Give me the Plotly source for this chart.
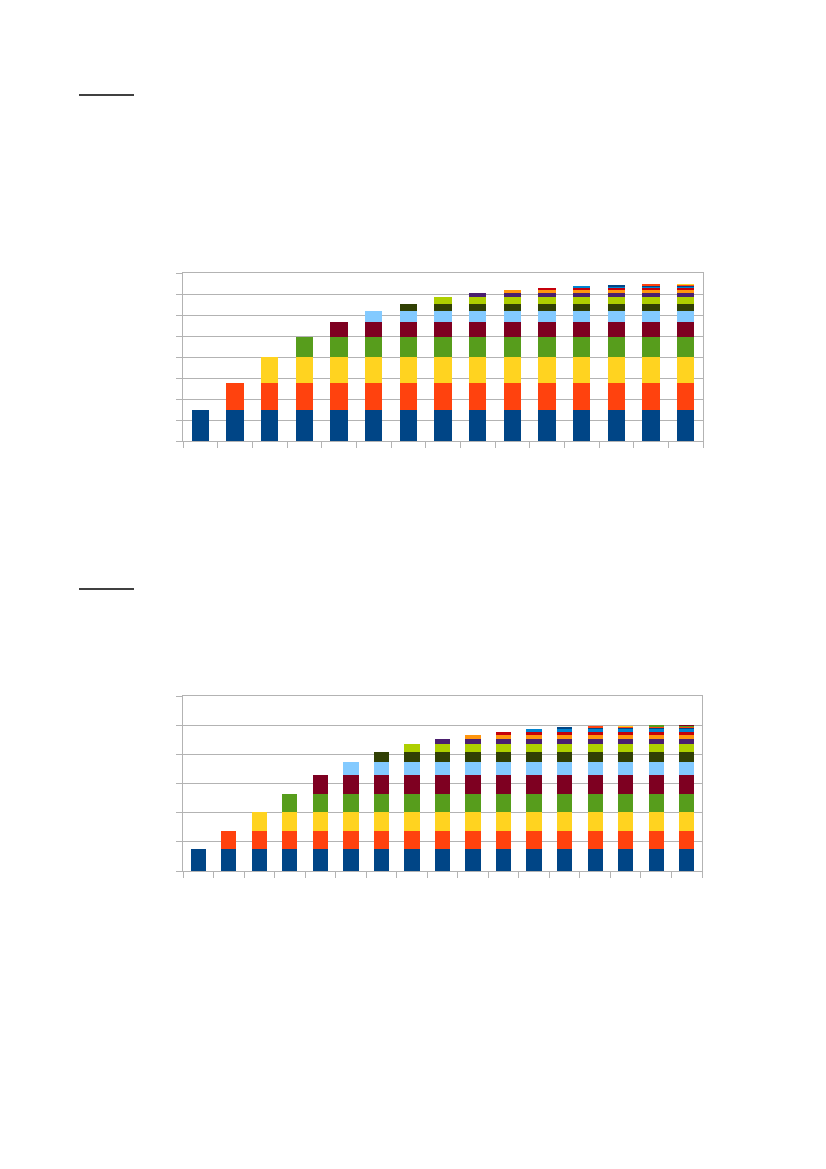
import plotly.graph_objects as go

# ---- data ----
categories_1 = [str(i) for i in range(1, 16)]
layer_values_1 = [1.48, 1.27, 1.25, 0.97, 0.70, 0.50, 0.37, 0.30, 0.22, 0.13,
                  0.11, 0.06, 0.05, 0.025, 0.015]

categories_2 = [str(i) for i in range(1, 18)]
layer_values_2 = [0.74, 0.64, 0.64, 0.63, 0.63, 0.46, 0.35, 0.26, 0.19, 0.14,
                  0.10, 0.09, 0.05, 0.025, 0.012, 0.035, 0.008]

palette = ["#004586", "#ff420e", "#ffd320", "#579d1c", "#7e0021", "#83caff",
           "#314004", "#aecf00", "#4b1f6f", "#ff950e", "#c5000b", "#0084d1"]

OFF = 8  # page body margin
W, H = 826 - OFF, 1169 - OFF
fig = go.Figure()


def px_x(x):
    return (x - OFF) / W


def px_y(y):
    return 1 - (y - OFF) / H


def add_chart(cats, layers, xa, ya):
    n = len(cats)
    for k, v in enumerate(layers):
        y = [None] * k + [v] * (n - k)
        fig.add_trace(go.Bar(
            x=cats, y=y, xaxis=xa, yaxis=ya,
            marker=dict(color=palette[k % len(palette)], line=dict(width=0)),
            width=0.5, showlegend=False, hoverinfo="skip"))


add_chart(categories_1, layer_values_1, "x", "y")
add_chart(categories_2, layer_values_2, "x2", "y2")

grid = "#b3b3b3"
common_x = dict(type="category", showticklabels=False, ticks="outside", ticklen=6,
                tickcolor=grid, tickwidth=1, tickson="boundaries", showgrid=False,
                showline=True, linecolor=grid, linewidth=1, mirror=True, zeroline=False)
common_y = dict(showticklabels=False, ticks="outside", ticklen=6, tickcolor=grid,
                tickwidth=1, showgrid=True, gridcolor=grid, gridwidth=1,
                showline=True, linecolor=grid, linewidth=1, mirror=True,
                zeroline=False, dtick=1)

fig.update_layout(
    width=W, height=H, margin=dict(l=0, r=0, t=0, b=0),
    paper_bgcolor="white", plot_bgcolor="white", barmode="stack",
    xaxis=dict(domain=[px_x(183), px_x(703)], anchor="y", **common_x),
    yaxis=dict(domain=[px_y(441), px_y(273)], anchor="x", range=[0, 8], **common_y),
    xaxis2=dict(domain=[px_x(183), px_x(702)], anchor="y2", **common_x),
    yaxis2=dict(domain=[px_y(871), px_y(696)], anchor="x2", range=[0, 6], **common_y),
    shapes=[
        dict(type="line", xref="paper", yref="paper", x0=px_x(79), x1=px_x(134),
             y0=px_y(95), y1=px_y(95), line=dict(color="black", width=1.3)),
        dict(type="line", xref="paper", yref="paper", x0=px_x(79), x1=px_x(134),
             y0=px_y(589), y1=px_y(589), line=dict(color="black", width=1.3)),
    ],
)

fig.write_html("out.html")
